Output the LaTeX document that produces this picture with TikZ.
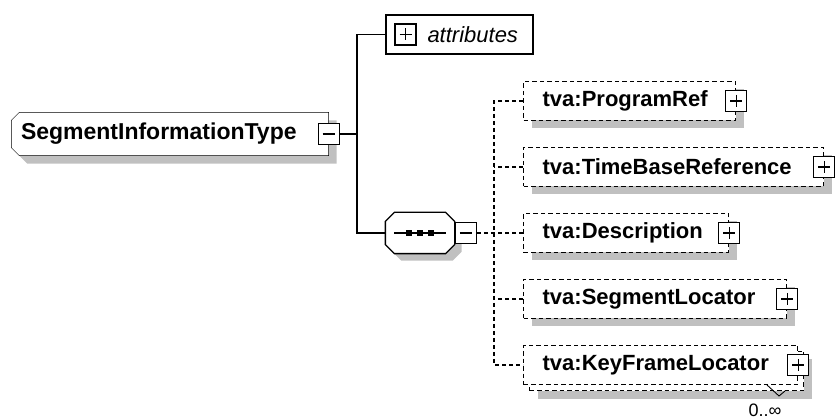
\documentclass[tikz,border=0pt]{standalone}
\usepackage{fontspec}
\setmainfont{Liberation Sans}
\usetikzlibrary{shadows,backgrounds}

\definecolor{shade}{HTML}{C0C0C0}

\begin{document}
\begin{tikzpicture}[x=1pt,y=-1pt,line width=1.3pt,
  shadowed/.style={general shadow={fill=shade,shadow xshift=8pt,shadow yshift=-8pt}},
  elem/.style={draw,fill=white,anchor=west,dash pattern=on 4.5pt off 3pt,minimum height=39pt,inner xsep=19pt,inner ysep=0pt,text width=#1,align=left,font=\fontsize{22}{26}\selectfont\bfseries},
  expander/.style={draw,fill=white,minimum size=21pt,inner sep=0pt},
  plus/.style={expander,path picture={\draw (path picture bounding box.center) +(-6,0) -- +(6,0) (path picture bounding box.center) +(0,-6) -- +(0,6);}},
  minus/.style={expander,path picture={\draw (path picture bounding box.center) +(-6,0) -- +(6,0);}},
  conn/.style={draw},
  dconn/.style={draw,dash pattern=on 4pt off 3pt}]
  \useasboundingbox (0,0) rectangle (835,419);
  \node[minimum width=316pt,minimum height=42pt,inner xsep=9pt,inner ysep=0pt,text width=298pt,align=left,font=\fontsize{23}{27}\selectfont\bfseries] (seginfo) at (170,134) {SegmentInformationType};
  \begin{scope}[on background layer]
    \filldraw[fill=white,shadowed] ([xshift=8pt]seginfo.north west) -- (seginfo.north east) -- (seginfo.south east) -- ([xshift=8pt]seginfo.south west) -- ([yshift=8pt]seginfo.south west) -- ([yshift=-8pt]seginfo.north west) -- cycle;
  \end{scope}
  \node[minus] (seginfominus) at (seginfo.east) {};
  \node[draw,fill=white,minimum width=147pt,minimum height=39pt,inner xsep=15pt,inner ysep=0pt,text width=117pt,align=right,font=\fontsize{22}{26}\selectfont\itshape] (attr) at (459.5,34.5) {attributes};
  \node[plus] (attrplus) at (405.5,34.5) {};
  \node[minimum width=68pt,minimum height=40pt,inner sep=0pt] (seq) at (420,233) {};
  \filldraw[fill=white,general shadow={fill=shade,shadow xshift=7pt,shadow yshift=-7pt}] ([xshift=9pt]seq.north west) -- ([xshift=-9pt]seq.north east) -- ([yshift=-9pt]seq.north east) -- ([yshift=9pt]seq.south east) -- ([xshift=-9pt]seq.south east) -- ([xshift=9pt]seq.south west) -- ([yshift=9pt]seq.south west) -- ([yshift=-9pt]seq.north west) -- cycle;
  \node[minus,anchor=west] (seqminus) at (seq.east) {};
  \draw (seq.center) +(-26,0) -- +(26,0);
  \foreach \dx in {-11,0,11}
    \fill (seq.center) ++(\dx,0) +(-2.75,-2.75) rectangle +(2.75,2.75);
  \node[elem=174pt,shadowed] (progref) at (523,101) {tva:ProgramRef};
  \node[elem=262pt,shadowed] (timebase) at (523,167) {tva:TimeBaseReference};
  \node[elem=167pt,shadowed] (descr) at (523,233) {tva:Description};
  \node[elem=225pt,shadowed] (segloc) at (523,299) {tva:SegmentLocator};
  \node[elem=236pt,shadowed] (keyframeback) at (529,371) {};
  \node[elem=236pt] (keyframe) at (523,365) {tva:KeyFrameLocator};
  \node[plus] (progrefplus) at (progref.east) {};
  \node[plus] (timebaseplus) at (timebase.east) {};
  \node[plus] (descrplus) at (descr.east) {};
  \node[plus] (seglocplus) at (segloc.east) {};
  \node[plus] (keyframeplus) at (keyframe.east) {};
  \node[font=\fontsize{18}{21}\selectfont] (keyframemult) at (765,410) {0..∞};
  \draw[line width=0.9pt] (767,385) -- (779,396) -- (785,391);
  \coordinate (rootfork) at (357,134);
  \draw[conn] (seginfominus) -- (rootfork);
  \draw[conn] (attr.west) -| (rootfork) |- (seq.west);
  \coordinate (seqfork) at (494,233);
  \draw[dconn] (seqminus) -- (seqfork);
  \draw[dconn] (progref.west) -| (seqfork) |- (keyframe.west);
  \foreach \n in {timebase,descr,segloc}
    \draw[dconn] (\n.west) -- (\n.west -| seqfork);
\end{tikzpicture}
\end{document}
